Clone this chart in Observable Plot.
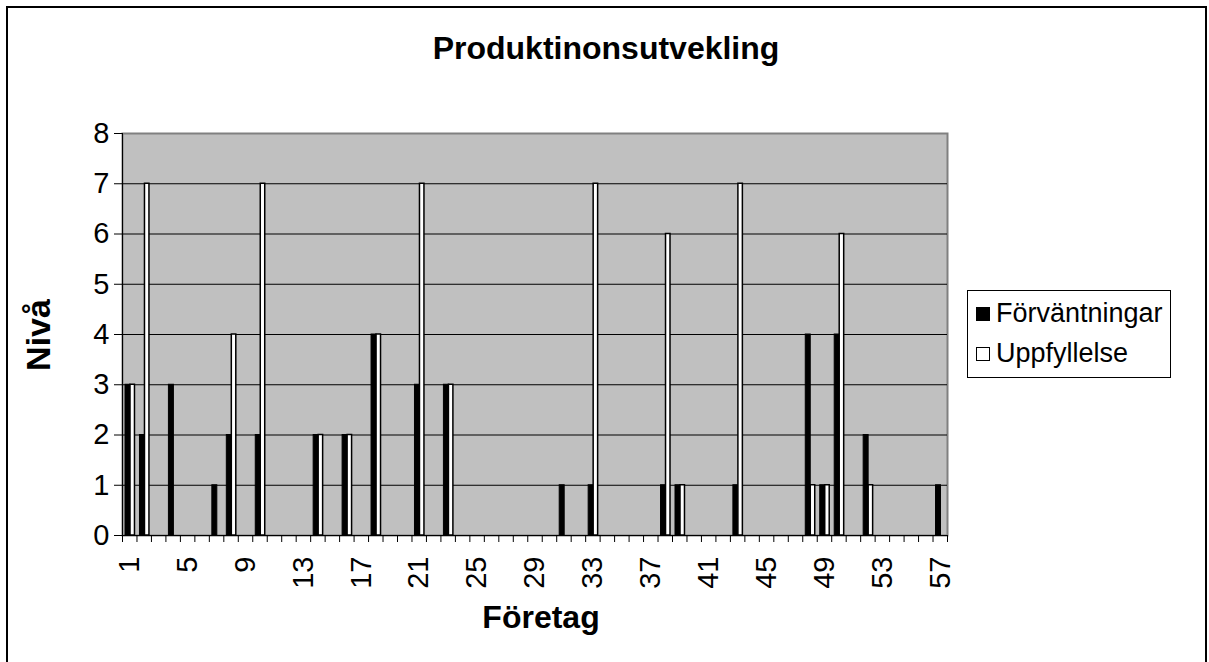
<!DOCTYPE html>
<html>
<head>
<meta charset="utf-8">
<script src="https://cdn.jsdelivr.net/npm/d3@7"></script>
<script src="https://cdn.jsdelivr.net/npm/@observablehq/plot@0.6"></script>
<style>
  html, body { margin: 0; padding: 0; background: white; overflow: hidden; }
  #wrap { position: relative; width: 1209px; height: 662px; overflow: hidden; font-family: "Liberation Sans", Arial, sans-serif; color: black; }
  #outer { position: absolute; left: 6px; top: 6px; width: 1197px; height: 700px; border: 2px solid black; }
  #chart { position: absolute; left: 0; top: 0; }
  .title { position: absolute; left: 606px; top: 48px; transform: translate(-50%, -50%); font-weight: bold; font-size: 32px; white-space: nowrap; }
  .ytitle { position: absolute; left: 38px; top: 335px; transform: translate(-50%, -50%) rotate(-90deg); font-weight: bold; font-size: 34px; white-space: nowrap; }
  .xtitle { position: absolute; left: 541px; top: 617px; transform: translate(-50%, -50%); font-weight: bold; font-size: 32px; white-space: nowrap; }
  #legend { position: absolute; left: 967px; top: 290px; width: 202px; height: 86px; border: 1px solid black; background: white; font-size: 27px; }
  .item { position: absolute; left: 8px; display: flex; align-items: center; white-space: nowrap; }
  .sw { width: 14px; height: 14px; box-sizing: border-box; border: 1.5px solid black; margin-right: 6px; }
</style>
</head>
<body>
<div id="wrap">
  <div id="outer"></div>
  <div id="chart"></div>
  <div class="title">Produktinonsutvekling</div>
  <div class="ytitle">Nivå</div>
  <div class="xtitle">Företag</div>
  <div id="legend"></div>
</div>
<script>
// ---- Data ----
const companies = d3.range(1, 58); // Företag 1..57
const seriesNames = ["Förväntningar", "Uppfyllelse"];
const seriesColors = ["black", "white"];
const forvantningar = [3,2,0,3,0,0,1,2,0,2, 0,0,0,2,0,2,0,4,0,0, 3,0,3,0,0,0,0,0,0,0, 1,0,1,0,0,0,0,1,1,0, 0,0,1,0,0,0,0,4,1,4, 0,2,0,0,0,0,1];
const uppfyllelse  = [3,7,0,0,0,0,0,4,0,7, 0,0,0,2,0,2,0,4,0,0, 7,0,3,0,0,0,0,0,0,0, 0,0,7,0,0,0,0,6,1,0, 0,0,7,0,0,0,0,1,1,6, 0,1,0,0,0,0,0];
const yTicks = [0,1,2,3,4,5,6,7,8];
const xTicks = [1,5,9,13,17,21,25,29,33,37,41,45,49,53,57];

const rowsF = companies.map((c, i) => ({company: c, value: forvantningar[i]})).filter(d => d.value > 0);
const rowsU = companies.map((c, i) => ({company: c, value: uppfyllelse[i]})).filter(d => d.value > 0);

const chart = Plot.plot({
  width: 1209,
  height: 662,
  marginLeft: 122,
  marginRight: 262,
  marginTop: 133,
  marginBottom: 127,
  style: {fontFamily: "'Liberation Sans', Arial, sans-serif", fontSize: "29px", color: "black", background: "transparent", overflow: "visible"},
  x: {type: "linear", domain: [0.5, 57.5]},
  y: {domain: [0, 8]},
  marks: [
    Plot.frame({fill: "#C0C0C0", stroke: "#808080", strokeWidth: 2}),
    Plot.ruleY(yTicks.filter(v => v > 0 && v < 8), {stroke: "black", strokeWidth: 1}),
    Plot.rect(rowsF, {x1: d => d.company - 0.5, x2: d => d.company + 0.5, y1: 0, y2: "value", fill: "black", stroke: "black", strokeWidth: 1, insetLeft: 3, insetRight: 6.5}),
    Plot.rect(rowsU, {x1: d => d.company - 0.5, x2: d => d.company + 0.5, y1: 0, y2: "value", fill: "white", stroke: "black", strokeWidth: 1.5, insetLeft: 8, insetRight: 2}),
    Plot.ruleY([0], {stroke: "black", strokeWidth: 1}),
    Plot.ruleX([0.5], {stroke: "black", strokeWidth: 1}),
    Plot.axisY({ticks: yTicks, tickSize: 8, tickPadding: 5, tickFormat: d => String(d), label: null}),
    Plot.axisX({ticks: d3.range(0.5, 58, 1), tickSize: 7, tickFormat: () => "", label: null}),
    Plot.axisX({ticks: xTicks, tickSize: 0, tickPadding: 21, tickRotate: -90, tickFormat: d => String(d), label: null})
  ]
});
document.getElementById("chart").appendChild(chart);

// ---- Legend ----
const legend = document.getElementById("legend");
seriesNames.forEach((name, i) => {
  const item = document.createElement("div");
  item.className = "item";
  item.style.top = (7 + i * 40) + "px";
  const sw = document.createElement("div");
  sw.className = "sw";
  sw.style.background = seriesColors[i];
  const t = document.createElement("span");
  t.textContent = name;
  item.appendChild(sw);
  item.appendChild(t);
  legend.appendChild(item);
});
</script>
</body>
</html>
